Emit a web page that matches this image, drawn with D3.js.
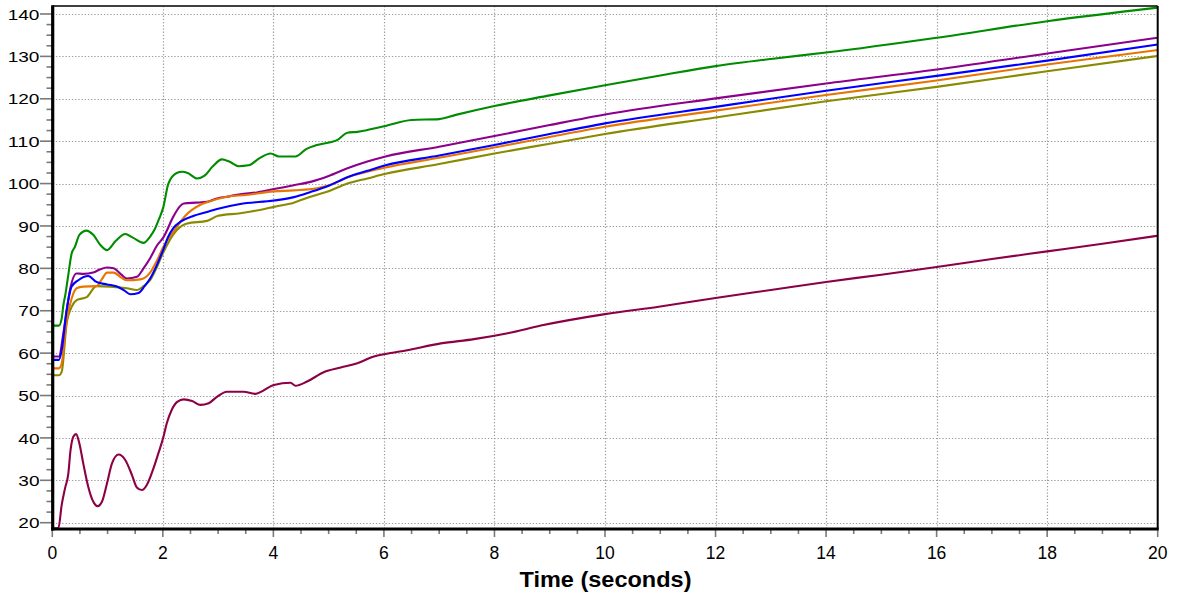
<!DOCTYPE html>
<html><head><meta charset="utf-8">
<script src="https://cdn.jsdelivr.net/npm/d3@7"></script>
<style>html,body{margin:0;padding:0;background:#fff;} svg{display:block;}</style>
</head><body>
<svg id="c" width="1179" height="597"></svg>
<script>
// ---- data (time in seconds, value) ----
const xTickValues = [0, 2, 4, 6, 8, 10, 12, 14, 16, 18, 20];
const yTickValues = [20, 30, 40, 50, 60, 70, 80, 90, 100, 110, 120, 130, 140];
const xAxisTitle = "Time (seconds)";

const greenSeries = [[0,66.5],[0.12,66.5],[0.17,68.2],[0.2,71.3],[0.24,74.1],[0.28,77.6],[0.35,83.5],[0.41,85.1],[0.49,87.9],[0.62,88.9],[0.74,87.9],[0.87,85.5],[0.99,84.3],[1.15,86.5],[1.32,88.1],[1.45,87.3],[1.65,86.0],[1.77,87.5],[1.86,89.4],[1.93,91.6],[2.01,94.5],[2.1,100],[2.25,102.5],[2.35,102.8],[2.45,102.5],[2.62,101.2],[2.75,101.8],[2.9,104],[3.07,105.7],[3.2,105.2],[3.37,104.1],[3.55,104.3],[3.75,106],[3.95,107.1],[4.1,106.4],[4.4,106.4],[4.6,108.2],[4.79,109.1],[5.16,110.3],[5.34,112.0],[5.52,112.2],[6.0,113.5],[6.5,115.0],[7.0,115.2],[7.3,116.2],[8,118.3],[9,120.8],[10,123.2],[11,125.5],[12,127.7],[13,129.4],[14,130.9],[16,134.4],[18,138.3],[20,141.5]];

const purpleSeries = [[0,59.2],[0.12,59.2],[0.2,64.7],[0.26,70],[0.32,74.9],[0.44,78.8],[0.56,78.7],[0.74,79.0],[0.87,79.8],[0.99,80.2],[1.11,80.0],[1.25,78.5],[1.35,77.6],[1.53,78.0],[1.65,80],[1.77,82.4],[1.9,85.5],[2.01,87.3],[2.19,92.2],[2.3,94.5],[2.38,95.3],[2.6,95.5],[2.8,95.7],[2.98,96.5],[3.16,96.9],[3.4,97.5],[3.7,97.9],[4.01,98.7],[4.37,99.6],[4.67,100.4],[5.0,101.8],[5.34,103.6],[5.7,105.2],[6.03,106.4],[7,108.7],[8,111.2],[9,113.8],[10,116.3],[12,120.1],[14,123.6],[16,126.9],[18,130.7],[20,134.4]];

const blueSeries = [[0,58.4],[0.12,58.4],[0.17,60.7],[0.26,70.2],[0.35,75.7],[0.47,77.2],[0.65,78.2],[0.80,76.8],[0.99,76.2],[1.17,75.7],[1.3,74.8],[1.41,73.9],[1.56,74.2],[1.67,75.8],[1.77,77.6],[1.9,81],[2.01,84.5],[2.1,87.5],[2.19,89.5],[2.32,91.0],[2.56,92.4],[2.8,93.3],[2.98,94.0],[3.4,95.2],[4.01,96.0],[4.37,96.8],[4.67,98.0],[5.0,99.5],[5.34,101.5],[5.7,103.0],[6.03,104.3],[7,106.6],[8,109.1],[9,111.7],[10,114.2],[12,118.1],[14,121.9],[16,125.4],[18,129.0],[20,132.8]];

const orangeSeries = [[0,56.4],[0.12,56.4],[0.17,57.6],[0.26,67.8],[0.35,72.9],[0.44,75.3],[0.56,75.7],[0.80,75.8],[0.9,77.5],[0.99,79.0],[1.11,79.0],[1.25,77.8],[1.35,77.2],[1.59,77.4],[1.77,79.0],[1.9,82],[2.01,85.1],[2.19,88.6],[2.4,92.3],[2.68,95.0],[2.8,95.6],[3.16,96.9],[3.5,97.3],[3.95,98.1],[4.37,98.4],[4.79,98.9],[5.1,100.0],[5.34,101.5],[5.7,102.8],[6.03,103.8],[7,106.1],[8,108.5],[9,111.0],[10,113.4],[12,117.2],[14,120.9],[16,124.3],[18,128.1],[20,131.5]];

const oliveSeries = [[0,54.8],[0.12,54.8],[0.17,55.6],[0.26,67.0],[0.35,70.9],[0.44,72.5],[0.62,73.2],[0.80,75.8],[1.05,75.7],[1.35,75.3],[1.53,74.9],[1.65,75.8],[1.77,77.2],[1.9,80.5],[2.01,83.8],[2.25,89.0],[2.44,90.6],[2.8,91.2],[3.0,92.4],[3.4,93.0],[3.8,93.9],[4.01,94.5],[4.37,95.5],[4.67,96.9],[5.0,98.2],[5.34,100.0],[5.7,101.2],[6.03,102.3],[7,104.6],[8,107.1],[9,109.4],[10,111.7],[12,115.6],[14,119.4],[16,122.8],[18,126.5],[20,130.1]];

const maroonSeries = [[0,18.7],[0.11,18.7],[0.17,24.2],[0.23,28.1],[0.29,31.6],[0.33,37.1],[0.38,40.3],[0.43,40.9],[0.49,38.7],[0.56,34.0],[0.65,28.5],[0.74,25.0],[0.82,23.9],[0.90,25.0],[0.99,29.3],[1.08,34.0],[1.20,36.1],[1.32,34.8],[1.44,31.3],[1.53,28.3],[1.62,27.7],[1.71,28.9],[1.83,32.8],[1.92,36.4],[2.01,40.2],[2.07,43.4],[2.16,46.6],[2.26,48.5],[2.38,49.1],[2.53,48.7],[2.68,47.8],[2.83,48.2],[2.98,49.7],[3.16,50.9],[3.46,50.9],[3.67,50.4],[4.01,52.5],[4.31,53.0],[4.40,52.3],[4.61,53.3],[4.91,55.5],[5.22,56.6],[5.52,57.6],[5.82,59.2],[6.03,59.8],[6.42,60.7],[7.03,62.3],[7.63,63.3],[8.24,64.7],[8.84,66.5],[10,69.2],[11,71.0],[12,73.0],[13,74.9],[14,76.8],[15,78.5],[16,80.3],[17,82.2],[18,84.0],[19,85.8],[20,87.7]];

const seriesList = [
  {name:"green", color:"#008c00", data:greenSeries},
  {name:"purple", color:"#8c008c", data:purpleSeries},
  {name:"olive", color:"#8a8a00", data:oliveSeries},
  {name:"orange", color:"#e87500", data:orangeSeries},
  {name:"blue", color:"#0000ff", data:blueSeries},
  {name:"maroon", color:"#8c0046", data:maroonSeries}
];

// ---- layout ----
const svg = d3.select("#c");
const plotL = 52.7, plotR = 1157.7, plotT = 6, plotB = 529;
const x = d3.scaleLinear().domain([0, 20]).range([52.3, 1157.7]);
const y = d3.scaleLinear().domain([20, 140]).range([522.7, 14]);

svg.append("rect").attr("width",1179).attr("height",597).attr("fill","#fff");

// grid
const grid = svg.append("g").attr("stroke","#9a9a9a").attr("stroke-width",1.2).attr("stroke-dasharray","1.3,1.9");
grid.selectAll("line.gx").data(xTickValues.filter(v => v > 0 && v < 20)).join("line")
  .attr("x1", d => Math.round(x(d))+0.5).attr("x2", d => Math.round(x(d))+0.5)
  .attr("y1", plotT).attr("y2", plotB);
grid.selectAll("line.gy").data(yTickValues).join("line")
  .attr("y1", d => Math.round(y(d))+0.5).attr("y2", d => Math.round(y(d))+0.5)
  .attr("x1", plotL).attr("x2", plotR);

// series
svg.append("clipPath").attr("id","clip").append("rect")
  .attr("x", plotL).attr("y", plotT).attr("width", plotR-plotL).attr("height", plotB-plotT);
const line = d3.line().x(d => x(d[0])).y(d => y(d[1])).curve(d3.curveMonotoneX);
const lines = svg.append("g").attr("clip-path","url(#clip)");
lines.selectAll("path").data(seriesList).join("path")
  .attr("d", d => line(d.data))
  .attr("fill","none")
  .attr("stroke", d => d.color)
  .attr("stroke-width", 2.1)
  .attr("stroke-linejoin","round");

// frame
svg.append("line").attr("x1",plotL).attr("x2",plotR).attr("y1",plotT).attr("y2",plotT).attr("stroke","#000").attr("stroke-width",1.6);
svg.append("line").attr("x1",plotR).attr("x2",plotR).attr("y1",plotT).attr("y2",plotB).attr("stroke","#000").attr("stroke-width",2);

// ticks
const xMinor = d3.range(0, 20.001, 0.5).filter(v => Math.abs(v/2 - Math.round(v/2)) > 1e-6);
const yMinor = d3.range(20, 140.001, 2.5).filter(v => Math.abs(v/10 - Math.round(v/10)) > 1e-6);
const tk = svg.append("g").attr("stroke","#7a7a7a").attr("stroke-width",1.6);
tk.selectAll("line.xM").data(xTickValues).join("line")
  .attr("x1", d => x(d)).attr("x2", d => x(d)).attr("y1", plotB).attr("y2", plotB+8);
tk.selectAll("line.xm").data(xMinor).join("line")
  .attr("x1", d => x(d)).attr("x2", d => x(d)).attr("y1", plotB).attr("y2", plotB+5);
tk.selectAll("line.yM").data(yTickValues).join("line")
  .attr("y1", d => y(d)).attr("y2", d => y(d)).attr("x1", 40).attr("x2", plotL);
tk.selectAll("line.ym").data(yMinor).join("line")
  .attr("y1", d => y(d)).attr("y2", d => y(d)).attr("x1", 46.5).attr("x2", plotL);

// axes (thick)
svg.append("line").attr("x1",plotL).attr("x2",plotL).attr("y1",plotT-0.8).attr("y2",plotB+1.5).attr("stroke","#000").attr("stroke-width",3.2);
svg.append("line").attr("x1",plotL-1.6).attr("x2",plotR+1).attr("y1",plotB).attr("y2",plotB).attr("stroke","#000").attr("stroke-width",3.2);

// labels
const font = "'Liberation Sans', Arial, Helvetica, sans-serif";
svg.append("g").selectAll("text").data(xTickValues).join("text")
  .attr("x", d => x(d)).attr("y", 558.5)
  .attr("text-anchor","middle")
  .attr("font-family", font).attr("font-size", 17.5).attr("fill","#000")
  .text(d => d);
svg.append("g").selectAll("text").data(yTickValues).join("text")
  .attr("x", 39.5).attr("y", d => y(d) + 5.6)
  .attr("text-anchor","end")
  .attr("font-family", font).attr("font-size", 15.5).attr("fill","#000")
  .attr("textLength", d => String(d).length * 10.6)
  .attr("lengthAdjust","spacingAndGlyphs")
  .text(d => d);
svg.append("text")
  .attr("x", 605.5).attr("y", 587)
  .attr("text-anchor","middle")
  .attr("font-family", font).attr("font-size", 21.5).attr("font-weight","bold").attr("fill","#000")
  .attr("textLength", 172).attr("lengthAdjust","spacingAndGlyphs")
  .text(xAxisTitle);
</script>
</body></html>
